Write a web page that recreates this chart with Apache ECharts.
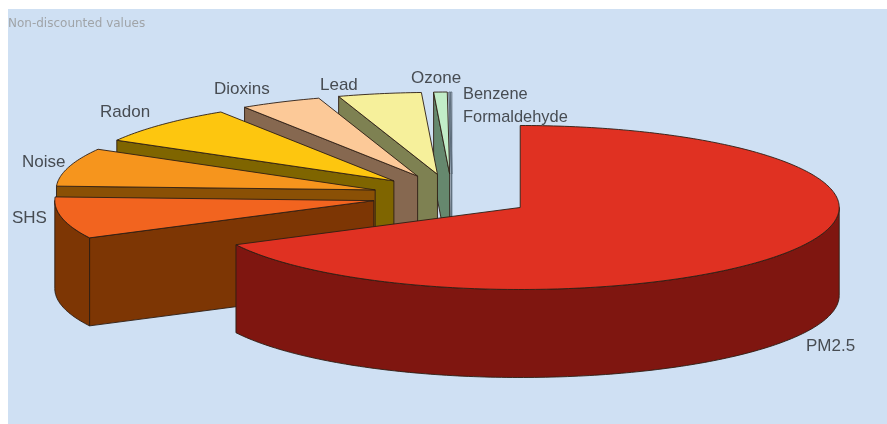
<!DOCTYPE html>
<html><head><meta charset="utf-8">
<style>html,body{margin:0;padding:0;background:#fff}#c{width:887px;height:424px;filter:blur(0.4px)}</style>
<script src="https://cdn.jsdelivr.net/npm/echarts@6/dist/echarts.min.js"></script>
</head><body><div id="c"></div>
<script>
const sliceNames = ['PM2.5','SHS','Noise','Radon','Dioxins','Lead','Ozone','Benzene','Formaldehyde'];
const sliceValues = [67.3, 8.2, 7.5, 7.6, 4.1, 4.2, 0.68, 0.06, 0.06];
const topColors  = ['#e03122','#f2641f','#f6951d','#fdc60f','#fcc998','#f6f09b','#c2edc8','#d9ecf6','#d5e4f2'];
const wallColors = ['#7f1610','#7d3604','#8a5005','#7f6500','#866850','#7e8152','#66886e','#aabccb','#b4c4d4'];
const labelAt = [[806,346],[12,218],[22,162],[100,112],[214,89],[320,85],[411,78],[463,94],[463,117]];
const labelSizes = [17,17,17,17,17,17,17,16.4,16.4];

const P = {cx:452, cy:196, rx:319, ry:82, depth:88, ex:80, ey:22};
const total = sliceValues.reduce((a,b)=>a+b,0);
const rad = d => d*Math.PI/180;

function renderItem(params, api){
  const i = params.dataIndex;
  let sum = 0;
  for(let k=0;k<i;k++) sum += sliceValues[k];
  const a = sum/total*360, b = (sum+api.value(0))/total*360, m = (a+b)/2;
  const ox = P.cx + P.ex*Math.sin(rad(m)), oy = P.cy - P.ey*Math.cos(rad(m));
  const pt = (t,d=0)=>[ox+P.rx*Math.sin(rad(t)), oy-P.ry*Math.cos(rad(t))+d];
  const arc = (s,e,d=0)=>{const o=[];const n=Math.max(1,Math.ceil(Math.abs(e-s)));for(let j=0;j<=n;j++)o.push(pt(s+(e-s)*j/n,d));return o;};
  const base = i===0 ? 200 : 10*(sliceNames.length-i);
  const edge = i>=7 ? 'rgba(90,105,120,0.9)' : 'rgba(45,30,20,0.9)';
  const kids = [];
  const poly = (pts,fill,z)=>kids.push({type:'polygon',shape:{points:pts},z2:base+z,
    style:{fill:fill,stroke:edge,lineWidth:1,lineJoin:'round'},silent:true});
  // radial wall on the slice's start edge, when it faces the viewer
  if(a>180 && a<360){
    poly([pt(a),[ox,oy],[ox,oy+P.depth],pt(a,P.depth)],wallColors[i],0);
  }
  // curved outer wall
  const s=Math.max(a,90), e=Math.min(b,270);
  if(e>s){
    poly(arc(s,e).concat(arc(e,s,P.depth)),wallColors[i],1);
  }
  // top
  poly([[ox,oy]].concat(arc(a,b)),topColors[i],2);
  kids.push({type:'text',z2:500,silent:true,style:{text:sliceNames[i],x:labelAt[i][0],y:labelAt[i][1],
    textVerticalAlign:'middle',font:labelSizes[i]+'px "Liberation Sans", Arial, sans-serif',fill:'#474c52'}});
  return {type:'group',children:kids};
}

const chart = echarts.init(document.getElementById('c'),null,{renderer:'canvas'});
chart.setOption({
  animation:false,
  backgroundColor:'#ffffff',
  graphic:[{type:'rect',z:-10,silent:true,shape:{x:8,y:9,width:879,height:415},style:{fill:'#cfe0f3'}}],
  title:{text:'Non-discounted values',left:3,top:13,textStyle:{fontFamily:'DejaVu Sans',fontSize:12,fontWeight:'normal',color:'#a0a4a8'}},
  series:[{type:'custom',coordinateSystem:'none',renderItem:renderItem,data:sliceValues.map(v=>[v]),encode:{value:0}}]
});
</script></body></html>
